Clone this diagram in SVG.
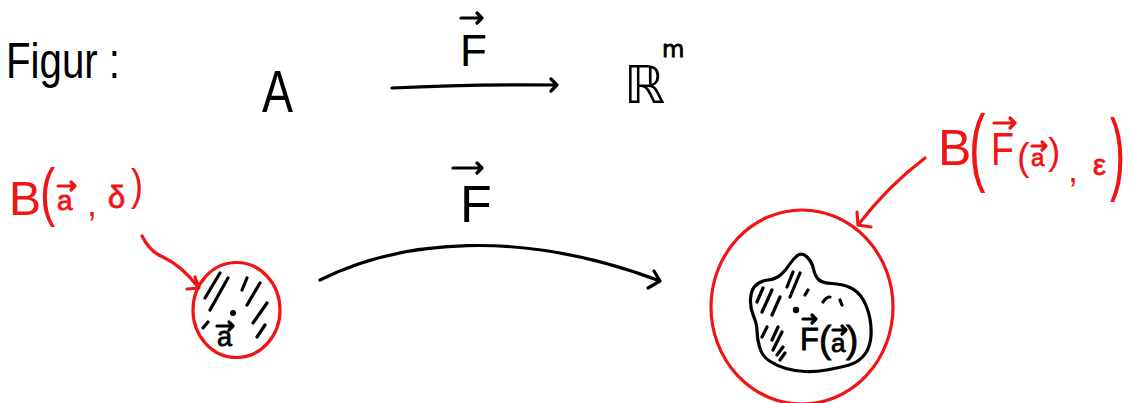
<svg xmlns="http://www.w3.org/2000/svg" width="1131" height="403" viewBox="0 0 1131 403">
<style>
.k{fill:none;stroke:#000;stroke-width:3.2;stroke-linecap:round;stroke-linejoin:round}
.r{fill:none;stroke:#f01414;stroke-width:3.2;stroke-linecap:round;stroke-linejoin:round}
.t{font-family:"Liberation Sans","DejaVu Sans",sans-serif;fill:#000}
.tr{font-family:"Liberation Sans","DejaVu Sans",sans-serif;fill:#f01414}
.sk{stroke:#000;stroke-width:0.8}
.skr{stroke:#f01414;stroke-width:0.8}
</style>
<rect width="1131" height="403" fill="#fff"/>

<g id="figur-label">
<text class="t" x="6" y="78" font-size="50" textLength="114" lengthAdjust="spacingAndGlyphs">Figur :</text>
</g>

<g id="node-A">
<text class="t" x="262" y="112" font-size="60" textLength="31" lengthAdjust="spacingAndGlyphs">A</text>
</g>

<g id="node-Rm">
<text class="t" x="624" y="103" font-size="52" style="font-family:'DejaVu Sans',sans-serif">ℝ</text>
<text class="t sk" x="662" y="57" font-size="23" style="font-family:'DejaVu Sans',sans-serif">m</text>
</g>

<g id="label-F-top">
<path class="k" d="M461,18 H482 M477,13 L482,18 L477,23"/>
<text class="t" x="460" y="66" font-size="44">F</text>
</g>

<g id="label-F-curve">
<path class="k" d="M453,168 H482 M477,163 L482,168 L477,173"/>
<text class="t" x="460" y="222" font-size="52">F</text>
</g>

<g id="label-B-a-delta">
<text class="tr" x="9" y="215" font-size="48">B</text>
<text class="tr" font-size="38" transform="translate(40,214) scale(1.2,1.7)">(</text>
<text class="tr skr" x="57" y="210" font-size="28">a</text>
<path class="r" d="M58,186 H75 M71,182 L75,186 L71,190"/>
<text class="tr" x="87" y="216" font-size="36">,</text>
<text class="tr skr" x="108" y="208" font-size="31">δ</text>
<text class="tr" font-size="30" transform="translate(131,200) scale(1.2,1.5)">)</text>
</g>

<g id="ball-a">
<ellipse class="r" cx="236.5" cy="310" rx="43.5" ry="47.5"/>
<path class="k" d="M220,273 L205,298 M228,278 L210,310 M247,278 L242,290 M260,283 L247,305 M267,303 L253,323 M265,325 L257,337 M208,322 L203,328"/>
<circle cx="233" cy="313" r="3" fill="#000"/>
<path class="k" d="M217,326 H233 M229,322 L233,326 L229,330"/>
<text class="t sk" x="217" y="346" font-size="27">a</text>
</g>

<g id="label-B-Fa-eps">
<text class="tr" x="938" y="165" font-size="50">B</text>
<text class="tr" font-size="38" transform="translate(969,175) scale(1.3,2.24)">(</text>
<text class="tr" x="991" y="165" font-size="46" textLength="23" lengthAdjust="spacingAndGlyphs">F</text>
<path class="r" d="M994,123 H1015 M1010,118 L1015,123 L1010,128"/>
<text class="tr" x="1017" y="170" font-size="38">(</text>
<text class="tr skr" x="1031" y="166" font-size="24">a</text>
<path class="r" d="M1032,146 H1046 M1042,142 L1046,146 L1042,150"/>
<text class="tr" x="1048" y="164" font-size="37">)</text>
<text class="tr" x="1068" y="182" font-size="36">,</text>
<text class="tr skr" x="1093" y="175" font-size="29">ε</text>
<text class="tr" font-size="38" transform="translate(1110,183) scale(1.2,2.4)">)</text>
</g>

<g id="ball-Fa">
<ellipse class="r" cx="802" cy="307" rx="91" ry="97"/>
<path class="k" d="M797.5,255.5 Q802,252 807,257 Q812,262 813.5,269 Q815,276 818.5,279.5 Q822,283 832,283.5 Q842,284 850,287.5 Q858,291 863,299.5 Q868,308 870,319 Q872,330 870.5,340 Q869,350 863,356.5 Q857,363 847.5,365.5 Q838,368 826.5,370 Q815,372 805,371.5 Q795,371 786,368.5 Q777,366 769.5,361 Q762,356 759.5,347 Q757,338 757,331 Q757,324 753.5,316 Q750,308 750.5,299 Q751,290 755.5,285.5 Q760,281 768,280 Q776,279 781,274.5 Q786,270 789.5,264.5 Q793,259 797.5,255.5 Z"/>
<path class="k" d="M763,288 L757,302 M772,290 L762,312 M780,297 L772,315 M793,272 L787,287 M800,273 L790,297 M808,290 L805,295 M823,302 Q826,297 830,297 M840,300 L842,305 M778,327 L772,340 M782,332 L773,350 M783,347 L777,355 M767,327 L762,337 M785,353 L780,360"/>
<circle cx="796" cy="310" r="3.2" fill="#000"/>
<path class="k" d="M803,319 H816 M812,315 L816,319 L812,323 M833,330 H846 M842,326 L846,330 L842,334"/>
<text class="t sk" y="350"><tspan x="800" font-size="31">F</tspan><tspan x="819" y="352" font-size="37">(</tspan><tspan x="831" font-size="26">a</tspan><tspan x="846" y="352" font-size="37">)</tspan></text>
</g>

<g id="connectors">
<path class="k" d="M392,88 Q470,84 557,85 M551,79 L557,85 L551,91"/>
<path class="k" d="M320,280 C400,240 520,228 660,281 M654,271 L660,281 L648,288"/>
<path class="r" d="M142,236 Q150,252 163,257 Q182,266 198,287 M187,289 L199,288 L195,277"/>
<path class="r" d="M925,158 Q888,186 858,225 M857,212 L858,225 L871,227"/>
</g>
</svg>
